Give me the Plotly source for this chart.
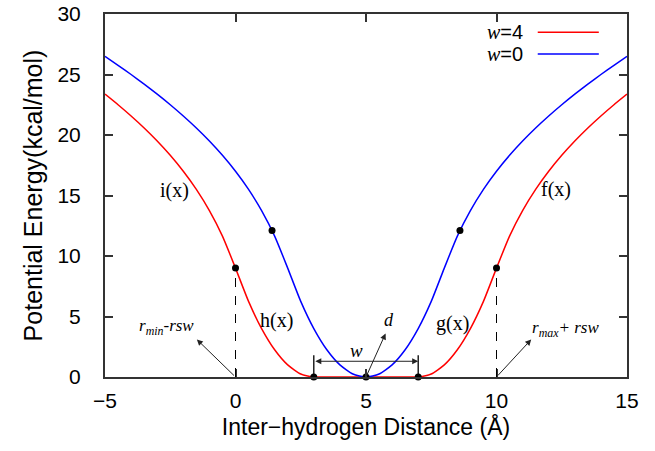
import plotly.graph_objects as go

# ---- data ----
red_x = [-5, -4.5, -4, -3.5, -3, -2.5, -2, -1.5, -1, -0.5, 0, 0.5, 1, 1.5, 2, 2.5, 3,
         3.5, 4, 4.5, 5, 5.5, 6, 6.5, 7, 7.5, 8, 8.5, 9, 9.5, 10, 10.5, 11, 11.5, 12,
         12.5, 13, 13.5, 14, 14.5, 15]
red_y = [23.375, 22.5, 21.571, 20.577, 19.5, 18.318, 17.0, 15.5, 13.75, 11.643, 9.0,
         6.25, 4.0, 2.25, 1.0, 0.25, 0.0, 0.0, 0.0, 0.0, 0.0, 0.0, 0.0, 0.0, 0.0,
         0.25, 1.0, 2.25, 4.0, 6.25, 9.0, 11.643, 13.75, 15.5, 17.0, 18.318, 19.5,
         20.577, 21.571, 22.5, 23.375]

blue_x = [-5, -4.5, -4, -3.5, -3, -2.5, -2, -1.5, -1, -0.5, 0, 0.5, 1, 1.5, 2, 2.5, 3,
          3.5, 4, 4.5, 5, 5.5, 6, 6.5, 7, 7.5, 8, 8.5, 9, 9.5, 10, 10.5, 11, 11.5, 12,
          12.5, 13, 13.5, 14, 14.5, 15]
blue_y = [26.5, 25.763, 25.0, 24.206, 23.375, 22.5, 21.571, 20.577, 19.5, 18.318, 17.0,
          15.5, 13.75, 11.643, 9.0, 6.25, 4.0, 2.25, 1.0, 0.25, 0.0, 0.25, 1.0, 2.25,
          4.0, 6.25, 9.0, 11.643, 13.75, 15.5, 17.0, 18.318, 19.5, 20.577, 21.571,
          22.5, 23.375, 24.206, 25.0, 25.763, 26.5]

dots_x = [0, 10, 1.4, 8.6, 3, 5, 7]
dots_y = [9.0, 9.0, 12.1, 12.1, 0, 0, 0]

r_min, d_val, r_max = 3, 5, 7
rsw_left, rsw_right = 0, 10
wall_value = 9.0

x_ticks = [-5, 0, 5, 10, 15]
y_ticks = [0, 5, 10, 15, 20, 25, 30]

SERIF = "Liberation Serif, Times New Roman, serif"
SANS = "Liberation Sans, Arial, Helvetica, sans-serif"

fig = go.Figure()
fig.add_trace(go.Scatter(x=red_x, y=red_y, mode="lines", name="w=4",
                         line=dict(color="#ff0000", width=1.5, shape="spline", smoothing=0.6),
                         showlegend=False))
fig.add_trace(go.Scatter(x=blue_x, y=blue_y, mode="lines", name="w=0",
                         line=dict(color="#0000ff", width=1.5, shape="spline", smoothing=0.6),
                         showlegend=False))
fig.add_trace(go.Scatter(x=dots_x, y=dots_y, mode="markers",
                         marker=dict(color="black", size=7), showlegend=False,
                         cliponaxis=False))

shapes = []
for xv in (rsw_left, rsw_right):
    shapes.append(dict(type="line", xref="x", yref="y", x0=xv, x1=xv, y0=0, y1=wall_value,
                       line=dict(color="black", width=1, dash="dash")))
for xv in (r_min, r_max):
    shapes.append(dict(type="line", xref="x", yref="y", x0=xv, x1=xv, y0=0, y1=1.8,
                       line=dict(color="black", width=1.3)))
# manual legend lines (text left of sample, as in the reference)
shapes.append(dict(type="line", xref="paper", yref="paper", x0=0.829, x1=0.946,
                   y0=0.950, y1=0.950, line=dict(color="#ff0000", width=1.5)))
shapes.append(dict(type="line", xref="paper", yref="paper", x0=0.829, x1=0.946,
                   y0=0.890, y1=0.890, line=dict(color="#0000ff", width=1.5)))

ann = []
def label(x, y, text, size=20, xanchor="center", font=SERIF):
    ann.append(dict(x=x, y=y, xref="x", yref="y", text=text, showarrow=False,
                    xanchor=xanchor, yanchor="middle",
                    font=dict(family=font, size=size, color="black")))

label(-2.34, 15.45, "i(x)")
label(1.56, 4.7, "h(x)")
label(8.33, 4.4, "g(x)")
label(12.29, 15.5, "f(x)")
label(4.62, 2.15, "<i>w</i>", size=19)
label(5.87, 4.75, "<i>d</i>", size=18)
label(2.86, -1.05, "<i>r<sub>min</sub></i>", size=17)
label(7.24, -1.05, "<i>r<sub>max</sub></i>", size=17)
label(-2.64, 4.15, "<i>r<sub>min</sub>-rsw</i>", size=17)
label(12.64, 3.95, "<i>r<sub>max</sub>+ rsw</i>", size=17)

def arrow(x0, y0, x1, y1, both=False):
    ann.append(dict(x=x1, y=y1, ax=x0, ay=y0, xref="x", yref="y", axref="x", ayref="y",
                    showarrow=True, arrowhead=2, arrowsize=1.2, arrowwidth=1,
                    arrowcolor="#222222", text="",
                    arrowside="end+start" if both else "end"))

arrow(r_min, 1.3, r_max, 1.3, both=True)
arrow(d_val, 0, 5.75, 3.6)
arrow(rsw_left, 0, -1.48, 3.1)
arrow(rsw_right, 0, 11.33, 3.1)

for yy, txt in ((0.950, "<span style='font-family:Liberation Serif'><i>w</i></span>=4"),
                (0.890, "<span style='font-family:Liberation Serif'><i>w</i></span>=0")):
    ann.append(dict(x=0.805, y=yy, xref="paper", yref="paper", text=txt, showarrow=False,
                    xanchor="right", yanchor="middle",
                    font=dict(family=SANS, size=20, color="black")))

fig.update_layout(
    width=655, height=451,
    margin=dict(l=105, r=28, t=14, b=74, autoexpand=False),
    plot_bgcolor="white", paper_bgcolor="white",
    shapes=shapes, annotations=ann,
    font=dict(family=SANS, size=21, color="black"),
)
fig.update_xaxes(range=[-5, 15], tickvals=x_ticks, ticks="inside", ticklen=8,
                 tickwidth=1.5, tickcolor="#333333", showline=True, linecolor="#333333",
                 linewidth=2, mirror="ticks", showgrid=False, zeroline=False,
                 tickfont=dict(size=21), ticklabelstandoff=4,
                 title=dict(text="Inter−hydrogen Distance (Å)",
                            font=dict(size=23), standoff=8))
fig.update_yaxes(range=[0, 30], tickvals=y_ticks, ticks="inside", ticklen=8,
                 tickwidth=1.5, tickcolor="#333333", showline=True, linecolor="#333333",
                 linewidth=2, mirror="ticks", showgrid=False, zeroline=False,
                 tickfont=dict(size=21), ticklabelstandoff=18,
                 title=dict(text="Potential Energy(kcal/mol)",
                            font=dict(size=25), standoff=8))

fig.write_html("out.html", config={"displayModeBar": False},
               post_script="document.body.style.margin='0';")
